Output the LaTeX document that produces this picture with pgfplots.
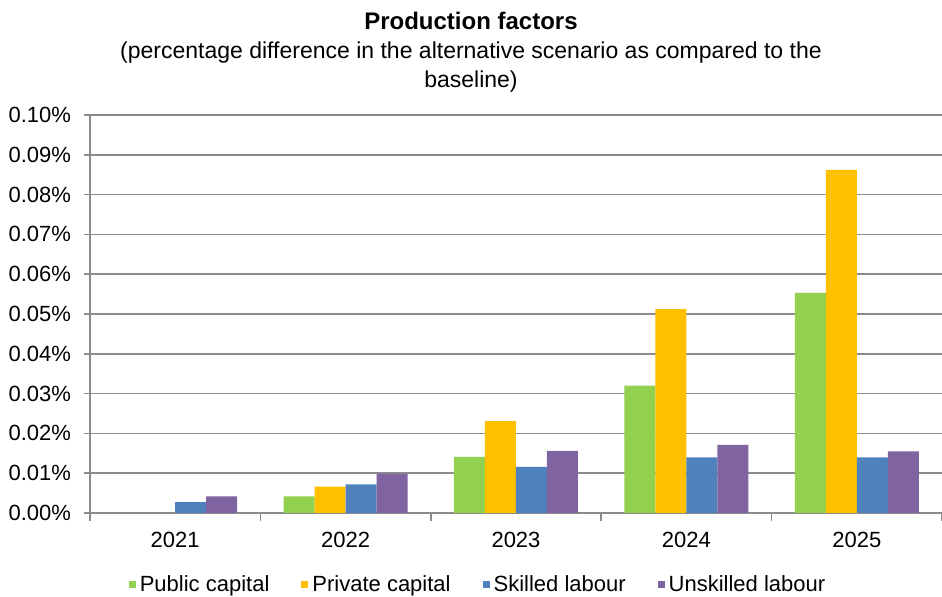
\documentclass[border=0pt]{standalone}
\usepackage{pgfplots}
\usepackage{pgfplotstable}
\pgfplotsset{compat=1.18}
\usepackage{fontspec}
\setmainfont{Liberation Sans}
\definecolor{cgreen}{HTML}{92D050}
\definecolor{corange}{HTML}{FFC000}
\definecolor{cblue}{HTML}{4F81BD}
\definecolor{cpurple}{HTML}{8064A2}
\definecolor{cgrid}{HTML}{8C8C8C}
\pgfplotstableread{
x pub priv skil unsk
0 0 0 0.0027 0.0042
1 0.0042 0.0066 0.0072 0.0099
2 0.0141 0.0231 0.0116 0.0156
3 0.0320 0.0512 0.0140 0.0171
4 0.0553 0.0862 0.0140 0.0155
}\datatable
\begin{document}
\begin{tikzpicture}
\path[use as bounding box] (-45pt,-42pt) rectangle (426pt,256.5pt);
\begin{axis}[
  at={(0,0)}, anchor=south west,
  scale only axis, width=426pt, height=199pt,
  xmin=-0.5, xmax=4.5, ymin=0, ymax=0.1,
  ybar=0pt, bar width=15.5pt,
  y filter/.expression={y==0 ? nan : y},
  unbounded coords=discard,
  axis lines=left,
  axis line style={draw=cgrid, line width=0.8pt, -},
  xtick={0,1,2,3,4},
  xticklabels={2021,2022,2023,2024,2025},
  minor xtick={-0.5,0.5,1.5,2.5,3.5,4.5},
  major x tick style={draw=none},
  minor x tick style={draw=cgrid, line width=0.8pt},
  minor tick length=4pt,
  ytick={0,0.01,0.02,0.03,0.04,0.05,0.06,0.07,0.08,0.09,0.1},
  yticklabel={\pgfmathprintnumber[fixed,fixed zerofill,precision=2,assume math mode=true]{\tick}\%},
  major y tick style={draw=cgrid, line width=0.8pt},
  major tick length=3pt,
  tick align=outside,
  ymajorgrids,
  major grid style={draw=cgrid, line width=0.8pt},
  tick label style={font=\fontsize{11}{13}\selectfont},
  yticklabel style={xshift=-3pt},
  xticklabel style={yshift=-3pt},
  title={{\fontsize{12}{14.5}\selectfont\bfseries Production factors}\\(percentage difference in the alternative scenario as compared to the\\baseline)},
  title style={align=center, font=\fontsize{11.5}{14.5}\selectfont, at={(0.5,1)}, anchor=south, inner sep=0pt, xshift=-22.5pt, yshift=5pt},
  legend columns=4,
  legend style={draw=none, fill=none, at={(0.4566,-0.181)}, anchor=center,
    font=\fontsize{11}{13}\selectfont,
    /tikz/every even column/.append style={column sep=14pt}},
  legend image code/.code={\fill[#1] (0pt,-1.6pt) rectangle (3.5pt,1.9pt);},
]
\addplot[fill=cgreen, draw=none] table[x=x, y=pub] {\datatable};
\addplot[fill=corange, draw=none] table[x=x, y=priv] {\datatable};
\addplot[fill=cblue, draw=none] table[x=x, y=skil] {\datatable};
\addplot[fill=cpurple, draw=none] table[x=x, y=unsk] {\datatable};
\legend{Public capital, Private capital, Skilled labour, Unskilled labour}
\end{axis}
\end{tikzpicture}
\end{document}
